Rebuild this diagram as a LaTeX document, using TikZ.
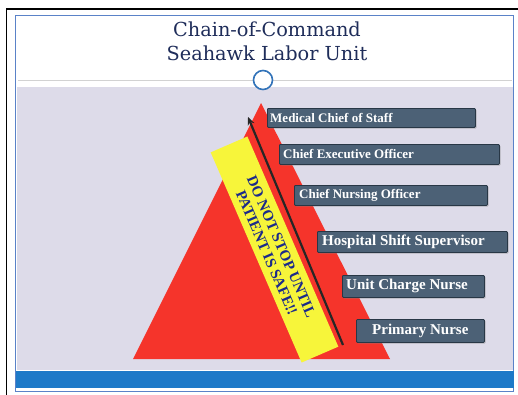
\documentclass[tikz,border=0pt]{standalone}
\usepackage{fontspec}
\setmainfont{Liberation Serif}
\newfontfamily\titlefont{DejaVu Serif}
\usetikzlibrary{arrows.meta,shadows,calc}
\definecolor{lav}{RGB}{221,219,233}
\definecolor{barblue}{RGB}{30,122,200}
\definecolor{frameblue}{RGB}{90,130,200}
\definecolor{circblue}{RGB}{50,115,185}
\definecolor{trired}{RGB}{245,52,43}
\definecolor{banyellow}{RGB}{247,245,58}
\definecolor{boxfill}{RGB}{76,97,118}
\definecolor{boxline}{RGB}{40,55,70}
\definecolor{titlecol}{RGB}{31,45,90}
\definecolor{bantext}{RGB}{27,42,138}
\tikzset{
  titletext/.style={font=\titlefont\fontsize{19.3}{22}\selectfont, text=titlecol, inner sep=0pt},
  stepbox/.style={anchor=north west, fill=boxfill, draw=boxline, line width=0.8pt,
    rounded corners=1pt, inner sep=0pt,
    drop shadow={shadow xshift=1.2pt, shadow yshift=-1.2pt, opacity=0.45}},
  boxtext/.style={anchor=west, font=\bfseries\fontsize{13}{15}\selectfont, text=white, inner sep=0pt},
  boxtextbig/.style={boxtext, font=\bfseries\fontsize{15}{17}\selectfont},
  banner/.style={fill=banyellow, inner sep=0pt},
  bantextstyle/.style={text=bantext, inner sep=0pt, font=\bfseries\fontsize{15}{15}\selectfont}
}
\begin{document}
\begin{tikzpicture}[x=1pt,y=-1pt]
\useasboundingbox (0,0) rectangle (518,394);
\clip (0,0) rectangle (518,394);
\fill[white] (0,0) rectangle (518,394);
% frames
\draw[black, line width=1.5pt] (6.5,9) rectangle (540,420);
\draw[frameblue, line width=0.7pt] (15,15) rectangle (513,391);
\fill[lav] (17,87) rectangle (513,370);
\fill[barblue] (16,371) rectangle (514,388);
\draw[gray!35, line width=0.6pt] (18,80) -- (512,80);
% title
\node[titletext] (t1) at (267,29) {Chain-of-Command};
\node[titletext] (t2) at (267,53) {Seahawk Labor Unit};
\node[circle, draw=circblue, line width=1.6pt, fill=white, minimum size=19pt, inner sep=0pt] (c) at (263,80) {};
% triangle
\coordinate (tl) at (133,359);
\coordinate (tt) at (261,103);
\coordinate (tr) at (390,359);
\fill[trired] (tl) -- (tt) -- (tr) -- cycle;
% banner
\node[banner, rotate=-66.6, minimum width=229pt, minimum height=40pt] (ban) at (274.5,249.5) {};
\node[bantextstyle, rotate=-66.6] (bt1) at ($(ban.center)!0.37!(ban.north)$) {DO NOT STOP UNTIL};
\node[bantextstyle, rotate=-66.6] (bt2) at ($(ban.center)!0.42!(ban.south)$) {PATIENT IS SAFE!!};
% arrow
\coordinate (abot) at (343,345);
\coordinate (atop) at (248,117);
\draw[black!85, line width=2.2pt, -{Stealth[length=8pt,width=7pt]}] (abot) -- (atop);
% boxes
\node[stepbox, minimum width=208pt, minimum height=19pt] (b1) at (267,108) {};
\node[boxtext] (l1) at ([xshift=3pt]b1.west) {Medical Chief of Staff};
\node[stepbox, minimum width=220pt, minimum height=20pt] (b2) at (279,144) {};
\node[boxtext] (l2) at ([xshift=4pt]b2.west) {Chief Executive Officer};
\node[stepbox, minimum width=193pt, minimum height=20pt] (b3) at (294,185) {};
\node[boxtext] (l3) at ([xshift=5pt]b3.west) {Chief Nursing Officer};
\node[stepbox, minimum width=190pt, minimum height=21pt] (b4) at (317,231) {};
\node[boxtextbig] (l4) at ([xshift=5pt]b4.west) {Hospital Shift Supervisor};
\node[stepbox, minimum width=142pt, minimum height=22pt] (b5) at (342,275) {};
\node[boxtextbig] (l5) at ([xshift=4pt]b5.west) {Unit Charge Nurse};
\node[stepbox, minimum width=128pt, minimum height=23pt] (b6) at (356,319) {};
\node[boxtextbig] (l6) at ([xshift=16pt]b6.west) {Primary Nurse};
\end{tikzpicture}
\end{document}
